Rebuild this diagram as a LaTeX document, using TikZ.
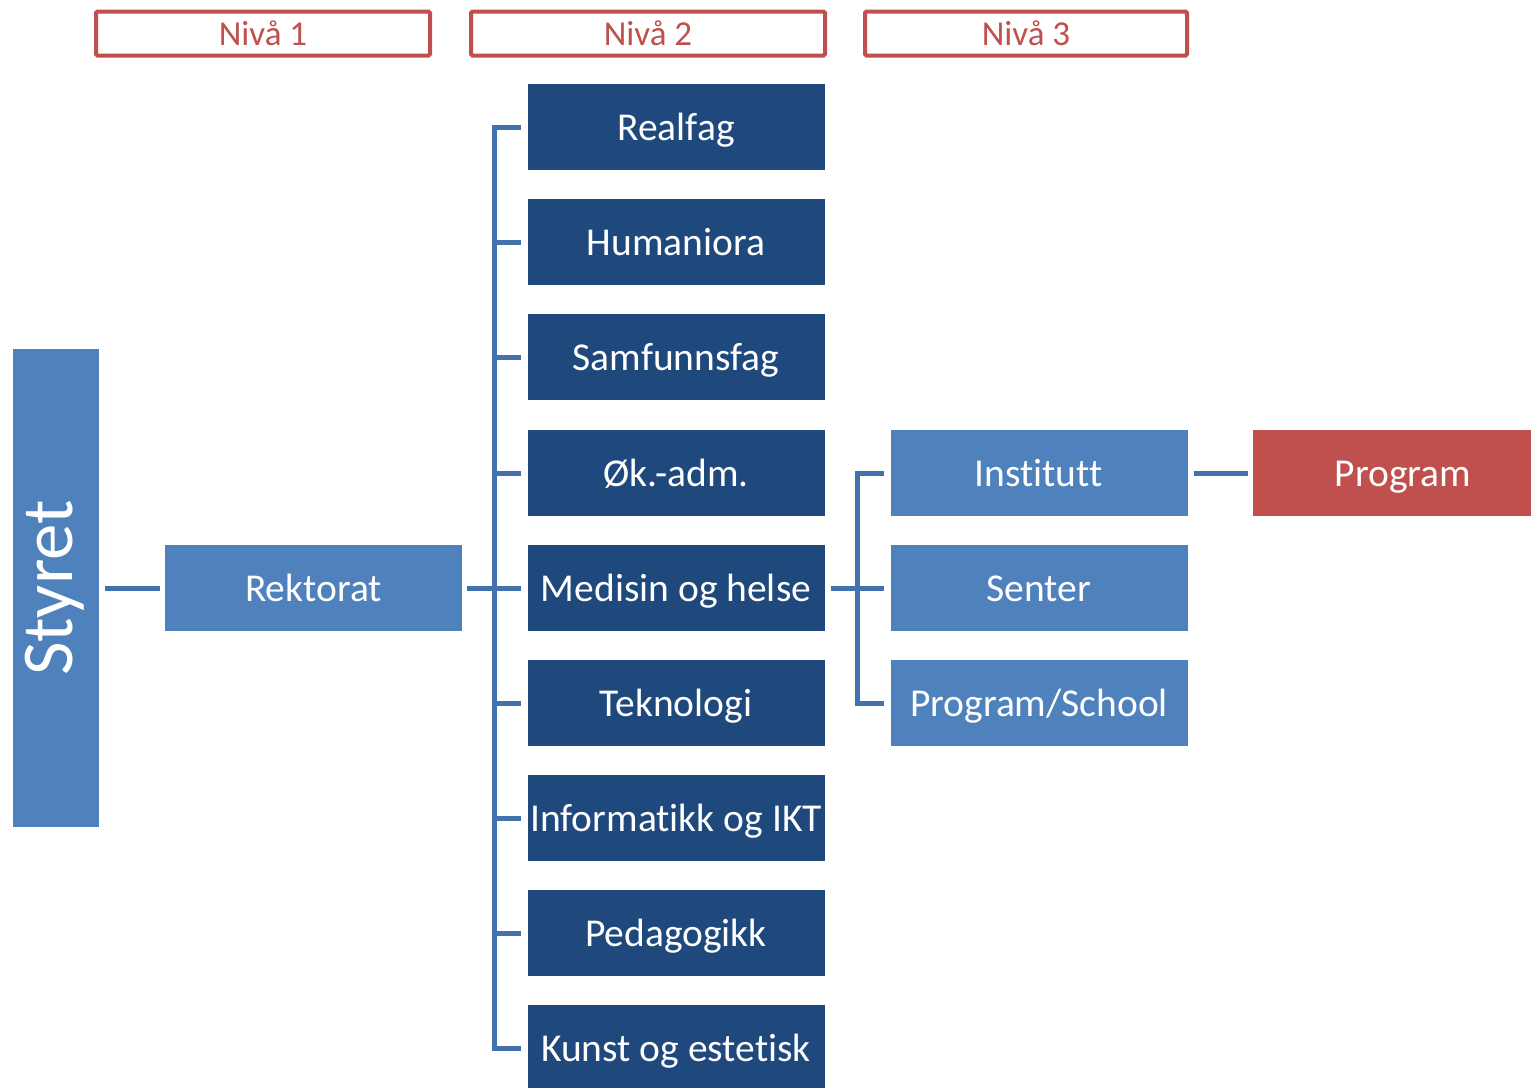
\documentclass[tikz,border=0pt]{standalone}
\usepackage{fontspec}
\setmainfont[Ligatures=NoCommon]{Carlito}
\usetikzlibrary{calc}
\definecolor{darkblue}{HTML}{1F497D}
\definecolor{lightblue}{HTML}{4F81BD}
\definecolor{redc}{HTML}{C0504D}
\definecolor{linec}{HTML}{4271AC}
\tikzset{
  box/.style={rectangle, inner sep=0pt, minimum width=297pt, minimum height=86pt, text height=33pt, text depth=6pt, text=white, font=\fontsize{39.5}{44}\selectfont},
  lvtwo/.style={box, fill=darkblue},
  lvthree/.style={box, fill=lightblue},
  redbox/.style={box, fill=redc},
  niva/.style={rectangle, draw=redc, line width=4pt, rounded corners=1.5pt, fill=white, inner sep=0pt, minimum height=44pt, text=redc, font=\fontsize{35}{40}\selectfont},
  conn/.style={draw=linec, line width=5pt},
}
\begin{document}
\begin{tikzpicture}[x=1pt,y=-1pt]
\useasboundingbox (0,0) rectangle (1531,1087);
\clip (0,0) rectangle (1531,1087);
% level headers
\node[niva, minimum width=334pt] (n1) at (263,33.5) {Nivå 1};
\node[niva, minimum width=354pt] (n2) at (648,33.5) {Nivå 2};
\node[niva, minimum width=322pt] (n3) at (1026,33.5) {Nivå 3};
% Styret
\node[rectangle, fill=lightblue, inner sep=0pt, minimum width=86pt, minimum height=478pt] (styret) at (56,588) {};
\node[text=white, font=\fontsize{73}{80}\selectfont, rotate=90, inner sep=0pt] (styrettxt) at (55,588) {Styret};
% Rektorat
\node[lvthree] (rektorat) at (313.5,588) {Rektorat};
% level 2
\node[lvtwo] (realfag) at (676,127) {Realfag};
\node[lvtwo] (humaniora) at (676,242) {Humaniora};
\node[lvtwo] (samfunn) at (676,357) {Samfunnsfag};
\node[lvtwo] (okadm) at (676,473) {Øk.-adm.};
\node[lvtwo] (medisin) at (676,588) {Medisin og helse};
\node[lvtwo] (teknologi) at (676,703) {Teknologi};
\node[lvtwo] (informatikk) at (676,818) {Informatikk og IKT};
\node[lvtwo] (pedagogikk) at (676,933) {Pedagogikk};
\node[lvtwo] (kunst) at (676,1048) {Kunst og estetisk};
% level 3
\node[lvthree] (institutt) at (1039,473) {Institut\kern0pt t};
\node[lvthree] (senter) at (1039,588) {Senter};
\node[lvthree] (school) at (1039,703) {Program/School};
\node[redbox, minimum width=300pt] (program) at (1403,473) {Program};
% connectors
\draw[conn, shorten <=6pt, shorten >=5pt] (styret.east) -- (rektorat.west);
\draw[conn, shorten <=5pt, shorten >=6pt] (rektorat.east) -- (medisin.west);
\coordinate (busA) at ($(rektorat.east)!0.5!(medisin.west)$);
\draw[conn, line join=miter] ([xshift=-6pt]realfag.west) -| (busA) |- ([xshift=-6pt]kunst.west);
\foreach \b in {humaniora,samfunn,okadm,teknologi,informatikk,pedagogikk}
  \draw[conn] ([xshift=-6pt]\b.west) -- (busA |- \b.west);
\draw[conn, shorten <=6pt, shorten >=6pt] (medisin.east) -- (senter.west);
\coordinate (busB) at ($(medisin.east)!0.5!(senter.west)$);
\draw[conn, line join=miter] ([xshift=-6pt]institutt.west) -| (busB) |- ([xshift=-6pt]school.west);
\draw[conn, shorten <=6pt, shorten >=5pt] (institutt.east) -- (program.west);
\end{tikzpicture}
\end{document}
